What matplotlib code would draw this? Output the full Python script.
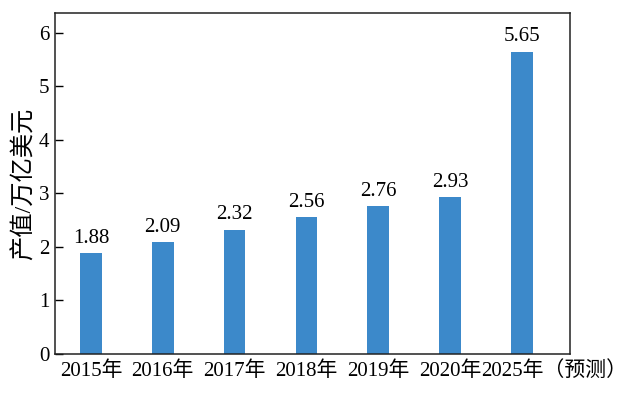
import matplotlib
matplotlib.use('Agg')
import matplotlib.pyplot as plt
import matplotlib.transforms as mtransforms

# data
years = ['2015年', '2016年', '2017年', '2018年', '2019年', '2020年', '2025年（预测）']
values = [1.88, 2.09, 2.32, 2.56, 2.76, 2.93, 5.65]
yticks = [0, 1, 2, 3, 4, 5, 6]

plt.rcParams['font.family'] = ['Liberation Serif', 'Noto Sans CJK SC']
plt.rcParams['axes.unicode_minus'] = False

fig = plt.figure(figsize=(6.35, 3.93), dpi=100)
ax = fig.add_axes([55 / 635, 1 - 354 / 393, (570 - 55) / 635, (354 - 13) / 393])

x = list(range(len(values)))
ax.bar(x, values, width=0.3, color='#3c89ca')

# value labels above the bars
for xi, v in zip(x, values):
    ax.text(xi, v + 0.1, f'{v:.2f}', ha='center', va='bottom', fontsize=15)

ax.set_xlim(-0.5, 6.67)
ax.set_ylim(0, 6.37)
ax.set_yticks(yticks)
ax.set_yticklabels([str(t) for t in yticks])
ax.set_xticks(x)
ax.set_xticklabels(years)

ax.tick_params(axis='y', direction='in', length=6, width=1, labelsize=15, pad=4)
ax.tick_params(axis='x', length=0, labelsize=15, pad=5)

# last label sticks out to the right: start it under the bar like the others
last = ax.get_xticklabels()[-1]
last.set_horizontalalignment('left')
last.set_transform(last.get_transform() + mtransforms.ScaledTranslation(-41 / 100, 0, fig.dpi_scale_trans))

for sp in ax.spines.values():
    sp.set_linewidth(1.1)
    sp.set_color('#222222')

ax.set_ylabel('产值/万亿美元', fontsize=17.5, labelpad=2)

fig.savefig('out.png', dpi=100)
